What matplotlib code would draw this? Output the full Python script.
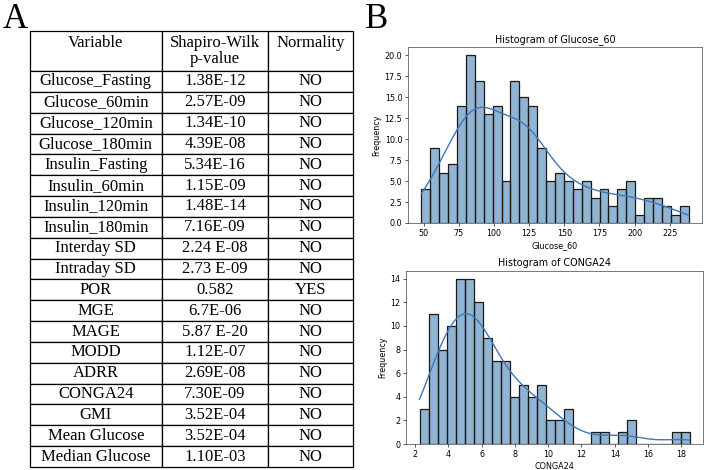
import numpy as np
import matplotlib
matplotlib.use("Agg")
import matplotlib.pyplot as plt

# ---------------- data ----------------
variables = ["Glucose_Fasting", "Glucose_60min", "Glucose_120min", "Glucose_180min",
             "Insulin_Fasting", "Insulin_60min", "Insulin_120min", "Insulin_180min",
             "Interday SD", "Intraday SD", "POR", "MGE", "MAGE", "MODD", "ADRR",
             "CONGA24", "GMI", "Mean Glucose", "Median Glucose"]
pvalues = ["1.38E-12", "2.57E-09", "1.34E-10", "4.39E-08", "5.34E-16", "1.15E-09",
           "1.48E-14", "7.16E-09", "2.24 E-08", "2.73 E-09", "0.582", "6.7E-06",
           "5.87 E-20", "1.12E-07", "2.69E-08", "7.30E-09", "3.52E-04", "3.52E-04",
           "1.10E-03"]
normality = ["NO"] * 10 + ["YES"] + ["NO"] * 8
col_labels = ["Variable\n", "Shapiro-Wilk\np-value", "Normality\n"]

glucose_counts = [4, 9, 6, 7, 14, 20, 17, 13, 14, 5, 17, 15, 14, 9, 5,
                  6, 5, 4, 5, 3, 4, 2, 4, 5, 1, 3, 3, 2, 1, 2]
glucose_range = (48.4, 238.4)
conga_counts = [3, 11, 8, 10, 14, 14, 12, 9, 7, 7, 4, 5, 4, 5, 2,
                2, 3, 0, 0, 1, 1, 0, 1, 2, 0, 0, 0, 0, 1, 1]
conga_range = (2.26, 18.5)

# ---------------- figure ----------------
W, H = 708, 470
fig = plt.figure(figsize=(W / 100, H / 100), dpi=100)

def rect(x0, y0, x1, y1):
    return [x0 / W, 1 - y1 / H, (x1 - x0) / W, (y1 - y0) / H]

serif = "Liberation Serif"

# panel labels
fig.text(3 / W, 1 - 28 / H, "A", fontsize=25, family=serif, va="baseline", ha="left")
fig.text(365 / W, 1 - 28 / H, "B", fontsize=25, family=serif, va="baseline", ha="left")

# ---------------- table ----------------
tax = fig.add_axes(rect(29.5, 31, 353, 467))
tax.axis("off")
cell_text = [[v, p, n] for v, p, n in zip(variables, pvalues, normality)]
col_w = [132.5, 106, 85]
tbl = tax.table(cellText=cell_text, colLabels=col_labels, cellLoc="center",
                colWidths=[c / sum(col_w) for c in col_w], bbox=[0, 0, 1, 1])
tbl.auto_set_font_size(False)
tbl.set_fontsize(12)
hdr_h, row_h = 40.0, 20.84
for (r, c), cell in tbl.get_celld().items():
    cell.set_height(hdr_h if r == 0 else row_h)
    cell.set_linewidth(0.9)
    cell.set_edgecolor("black")
    cell.get_text().set_family(serif)
    cell.get_text().set_fontsize(12)
    cell.get_text().set_linespacing(1.05)

# ---------------- histograms ----------------
s = 0.58
fill_color = "steelblue"
line_color = "#3a78bf"

def kde_curve(edges, counts, npts=200):
    centers = 0.5 * (edges[:-1] + edges[1:])
    samples = np.repeat(centers, counts)
    n = samples.size
    bw = samples.std(ddof=1) * n ** (-1 / 5)
    xs = np.linspace(edges[0], edges[-1], npts)
    dens = np.exp(-0.5 * ((xs[:, None] - samples[None, :]) / bw) ** 2).sum(1)
    dens /= (n * bw * np.sqrt(2 * np.pi))
    binw = edges[1] - edges[0]
    return xs, dens * n * binw

def hist_panel(ax, counts, rng, title, xlabel, xticks, yticks, yfmt):
    counts = np.asarray(counts)
    edges = np.linspace(rng[0], rng[1], len(counts) + 1)
    ax.bar(edges[:-1], counts, width=np.diff(edges), align="edge",
           color=fill_color, alpha=0.6, edgecolor="none")
    ax.bar(edges[:-1], counts, width=np.diff(edges), align="edge",
           facecolor="none", edgecolor="#1a1a1a", linewidth=0.9)
    xs, ys = kde_curve(edges, counts)
    ax.plot(xs, ys, color=line_color, lw=1.0)
    span = rng[1] - rng[0]
    ax.set_xlim(rng[0] - 0.05 * span, rng[1] + 0.05 * span)
    ax.set_ylim(0, counts.max() * 1.05)
    ax.set_xticks(xticks)
    ax.set_yticks(yticks)
    ax.set_yticklabels([yfmt.format(v) for v in yticks])
    ax.set_title(title, fontsize=12 * s, pad=6 * s, family="DejaVu Sans")
    ax.set_xlabel(xlabel, fontsize=10 * s, labelpad=4 * s)
    ax.set_ylabel("Frequency", fontsize=10 * s, labelpad=4 * s)
    ax.tick_params(labelsize=10 * s, length=3.5 * s, width=0.8 * s, pad=3.5 * s)
    for sp in ax.spines.values():
        sp.set_linewidth(0.8 * s)
        sp.set_color("#333333")

ax1 = fig.add_axes(rect(408, 47, 702, 223))
hist_panel(ax1, glucose_counts, glucose_range, "Histogram of Glucose_60", "Glucose_60",
           [50, 75, 100, 125, 150, 175, 200, 225],
           [0, 2.5, 5, 7.5, 10, 12.5, 15, 17.5, 20], "{:.1f}")

ax2 = fig.add_axes(rect(406, 270.5, 703, 444))
hist_panel(ax2, conga_counts, conga_range, "Histogram of CONGA24", "CONGA24",
           [2, 4, 6, 8, 10, 12, 14, 16, 18],
           [0, 2, 4, 6, 8, 10, 12, 14], "{:.0f}")

fig.savefig("out.png", dpi=100)
